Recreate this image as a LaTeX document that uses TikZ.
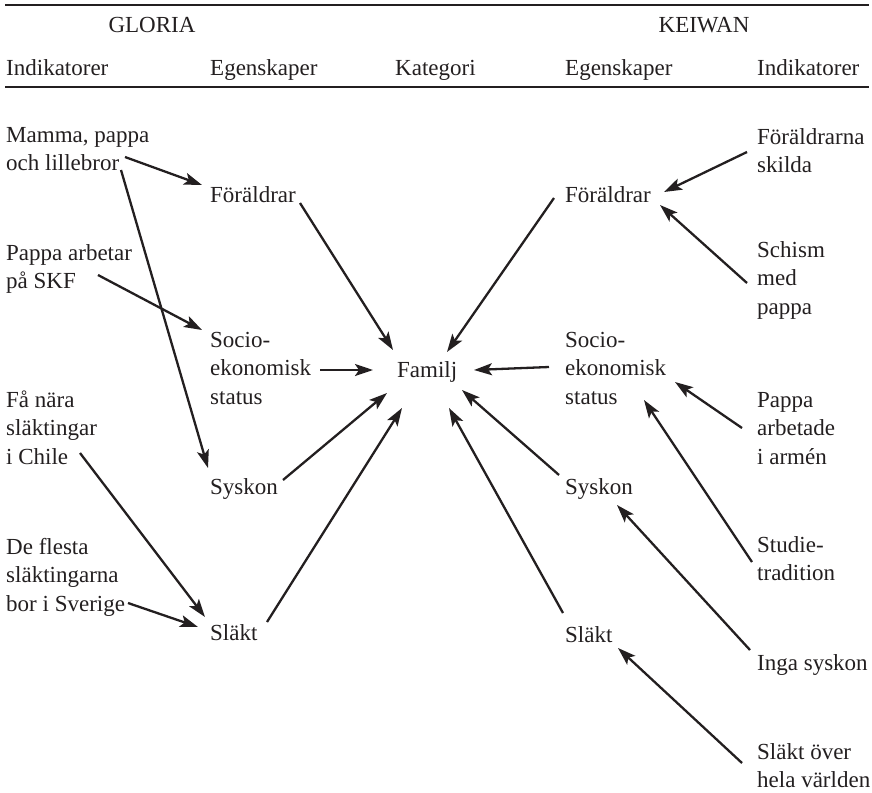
\documentclass[tikz,border=0pt]{standalone}
\usepackage{fontspec}
\setmainfont{Liberation Serif}
\definecolor{ink}{RGB}{35,31,32}
\usetikzlibrary{arrows.meta, positioning}

\begin{document}
\begin{tikzpicture}[
  x=1pt, y=-1pt,
  txt/.style={anchor=base west, inner sep=0pt, align=left, text=ink,
    font=\fontsize{23}{28.5}\selectfont},
  head/.style={txt, anchor=base},
  arr/.style={draw=ink, line width=2.3pt, -{Stealth[length=18pt, width=12pt, inset=4pt]}}
]
  \useasboundingbox (0,0) rectangle (872,792);

  % rules and headers
  \coordinate (r1a) at (5,5);   \coordinate (r1b) at (869,5);
  \coordinate (r2a) at (5,87);  \coordinate (r2b) at (869,87);
  \draw[ink, line width=1.5pt] (r1a) -- (r1b);
  \draw[ink, line width=1.5pt] (r2a) -- (r2b);
  \node[head] (gloria) at (152,33) {GLORIA};
  \node[head] (keiwan) at (704,33) {KEIWAN};
  \node[txt] (hind1) at (6,75)   {Indikatorer};
  \node[txt] (hegs1) at (210,75) {Egenskaper};
  \node[txt] (hkat)  at (395,75) {Kategori};
  \node[txt] (hegs2) at (565,75) {Egenskaper};
  \node[txt] (hind2) at (757,75) {Indikatorer};

  % Gloria (base = last line)
  \node[txt] (mamma)  at (6,170.5) {Mamma, pappa\\och lillebror};
  \node[txt] (skf)    at (6,288.5) {Pappa arbetar\\på SKF};
  \node[txt] (chile)  at (6,464) {Få nära\\släktingar\\i Chile};
  \node[txt] (sverige) at (6,611) {De flesta\\släktingarna\\bor i Sverige};
  \node[txt] (foerG)  at (210,202) {Föräldrar};
  \node[txt] (socG)   at (210,404) {Socio-\\ekonomisk\\status};
  \node[txt] (sysG)   at (210,494) {Syskon};
  \node[txt] (slaktG) at (210,640) {Släkt};

  \node[txt] (familj) at (397,377) {Familj};

  % Keiwan
  \node[txt] (foerK)  at (565,202) {Föräldrar};
  \node[txt] (socK)   at (565,404) {Socio-\\ekonomisk\\status};
  \node[txt] (sysK)   at (565,494) {Syskon};
  \node[txt] (slaktK) at (565,642) {Släkt};
  \node[txt] (skilda) at (757,172.5) {Föräldrarna\\skilda};
  \node[txt] (schism) at (757,314) {Schism\\med\\pappa};
  \node[txt] (armen)  at (757,464) {Pappa\\arbetade\\i armén};
  \node[txt] (studie) at (757,580.5) {Studie-\\tradition};
  \node[txt] (inga)   at (757,670) {Inga syskon};
  \node[txt] (varld)  at (757,787.5) {Släkt över\\hela världen};

  % Gloria arrows
  \draw[arr] ([shift={(119,-13.5)}]mamma.base west) -- ([shift={(-8,-17)}]foerG.base west);
  \draw[arr] ([shift={(115,-0.5)}]mamma.base west) -- ([shift={(-2,-26)}]sysG.base west);
  \draw[arr] ([shift={(92,-13.5)}]skf.base west) -- ([shift={(-8,-74)}]socG.base west);
  \draw[arr] ([shift={(74,-11)}]chile.base west) -- ([shift={(-5,-23)}]slaktG.base west);
  \draw[arr] ([shift={(122,-8)}]sverige.base west) -- ([shift={(-12,-13)}]slaktG.base west);
  \draw[arr] ([shift={(90,1)}]foerG.base west) -- ([shift={(-4,-27)}]familj.base west);
  \draw[arr] ([shift={(110,-34)}]socG.base west) -- ([shift={(-24,-7)}]familj.base west);
  \draw[arr] ([shift={(73,-14)}]sysG.base west) -- ([shift={(-10,16)}]familj.base west);
  \draw[arr] ([shift={(57,-18)}]slaktG.base west) -- ([shift={(5,31)}]familj.base west);

  % Keiwan arrows
  \draw[arr] ([shift={(-10,-20.5)}]skilda.base west) -- ([shift={(99,-10)}]foerK.base west);
  \draw[arr] ([shift={(-10,-31)}]schism.base west) -- ([shift={(95,3)}]foerK.base west);
  \draw[arr] ([shift={(-15,-36)}]armen.base west) -- ([shift={(110,-22)}]socK.base west);
  \draw[arr] ([shift={(-5,-18.5)}]studie.base west) -- ([shift={(79,-4)}]socK.base west);
  \draw[arr] ([shift={(-7,-20)}]inga.base west) -- ([shift={(52,11)}]sysK.base west);
  \draw[arr] ([shift={(-15,-24.5)}]varld.base west) -- ([shift={(53,6)}]slaktK.base west);
  \draw[arr] ([shift={(-11,-4)}]foerK.base west) -- ([shift={(50,-25)}]familj.base west);
  \draw[arr] ([shift={(-16,-37)}]socK.base west) -- ([shift={(77,-7)}]familj.base west);
  \draw[arr] ([shift={(-6,-19)}]sysK.base west) -- ([shift={(65,13)}]familj.base west);
  \draw[arr] ([shift={(-2,-29)}]slaktK.base west) -- ([shift={(52,31)}]familj.base west);
\end{tikzpicture}
\end{document}
